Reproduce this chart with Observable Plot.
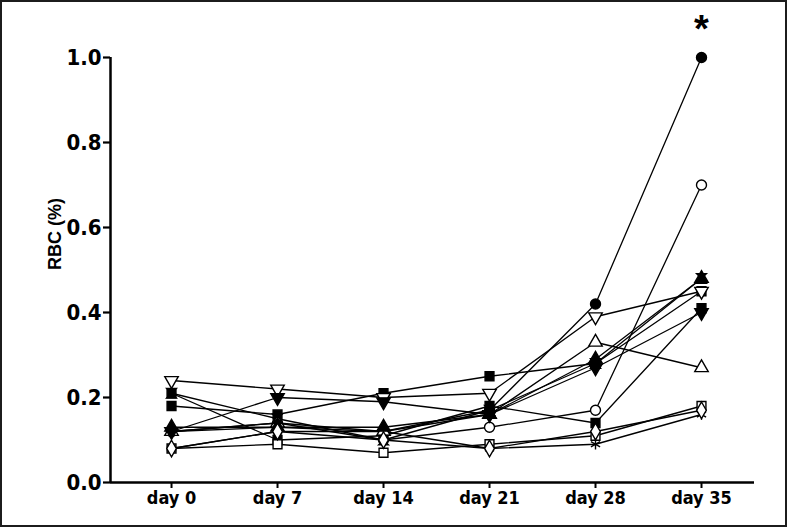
<!DOCTYPE html>
<html>
<head>
<meta charset="utf-8">
<script src="https://cdn.jsdelivr.net/npm/d3@7"></script>
<script src="https://cdn.jsdelivr.net/npm/@observablehq/plot@0.6"></script>
<style>
  html, body { margin: 0; padding: 0; background: #fff; }
  #wrap { position: relative; width: 787px; height: 527px; }
  #border { position: absolute; left: 0; top: 0; width: 787px; height: 527px; box-sizing: border-box; border: 2px solid #1c1c1c; pointer-events: none; }
</style>
</head>
<body>
<div id="wrap"><div id="chart"></div><div id="border"></div></div>
<script>
// ---- data ----
const days = [0, 7, 14, 21, 28, 35];
const dayLabels = ["day 0", "day 7", "day 14", "day 21", "day 28", "day 35"];
const yTicks = [0, 0.2, 0.4, 0.6, 0.8, 1.0];

const filledCircle   = [0.12, 0.13, 0.12, 0.17, 0.42, 1.00];
const openCircle     = [0.12, 0.14, 0.10, 0.13, 0.17, 0.70];
const filledSquareA  = [0.18, 0.16, 0.21, 0.25, 0.28, 0.45];
const filledSquareB  = [0.21, 0.10, 0.11, 0.18, 0.14, 0.41];
const openSquare     = [0.08, 0.09, 0.07, 0.09, 0.11, 0.18];
const starSeries     = [0.08, 0.12, 0.12, 0.08, 0.09, 0.16];
const openTriUp      = [0.12, 0.14, 0.12, 0.16, 0.33, 0.27];
const filledTriUp    = [0.13, 0.13, 0.13, 0.16, 0.29, 0.48];
const openTriDown    = [0.24, 0.22, 0.20, 0.21, 0.39, 0.45];
const filledTriDown  = [0.12, 0.20, 0.19, 0.16, 0.27, 0.40];
const hourglass      = [0.21, 0.15, 0.10, 0.17, 0.28, 0.48];
const openDiamond    = [0.08, 0.12, 0.10, 0.08, 0.12, 0.17];

const starLabel = "*";
const starValue = 1.085;

// ---- custom symbols ----
const triDown = {
  draw(ctx, size) {
    const y = -Math.sqrt(size / (Math.sqrt(3) * 3));
    ctx.moveTo(0, -y * 2);
    ctx.lineTo(-Math.sqrt(3) * y, y);
    ctx.lineTo(Math.sqrt(3) * y, y);
    ctx.closePath();
  }
};
const hourglassSym = {
  draw(ctx, size) {
    const h = Math.sqrt(size) * 0.55;
    ctx.moveTo(-h, -h); ctx.lineTo(h, -h); ctx.lineTo(0, 0); ctx.closePath();
    ctx.moveTo(-h, h); ctx.lineTo(h, h); ctx.lineTo(0, 0); ctx.closePath();
  }
};

const seriesDefs = [
  {name: "filledCircle",  values: filledCircle,  symbol: "circle",   filled: true},
  {name: "openCircle",    values: openCircle,    symbol: "circle",   filled: false},
  {name: "filledSquareA", values: filledSquareA, symbol: "square",   filled: true},
  {name: "filledSquareB", values: filledSquareB, symbol: "square",   filled: true},
  {name: "openSquare",    values: openSquare,    symbol: "square",   filled: false},
  {name: "star",          values: starSeries,    symbol: "asterisk", filled: false},
  {name: "openTriUp",     values: openTriUp,     symbol: "triangle", filled: false},
  {name: "filledTriUp",   values: filledTriUp,   symbol: "triangle", filled: true},
  {name: "openTriDown",   values: openTriDown,   symbol: triDown,    filled: false},
  {name: "filledTriDown", values: filledTriDown, symbol: triDown,    filled: true},
  {name: "hourglass",     values: hourglass,     symbol: hourglassSym, filled: true},
  {name: "openDiamond",   values: openDiamond,   symbol: "diamond",  filled: false}
];

const rows = seriesDefs.flatMap(s => s.values.map((v, i) => ({series: s.name, day: days[i], value: v})));

const narrow = "'Liberation Sans Narrow', 'Arial Narrow', 'DejaVu Sans Condensed', sans-serif";

const dotMarks = seriesDefs.map(s => Plot.dot(rows.filter(r => r.series === s.name), {
  x: "day", y: "value",
  symbol: s.symbol,
  r: 5,
  fill: s.symbol === "asterisk" ? "none" : (s.filled ? "black" : "white"),
  stroke: "black",
  strokeWidth: 1.4
}));

const chart = Plot.plot({
  width: 787,
  height: 527,
  marginLeft: 110,
  marginRight: 33,
  marginTop: 57,
  marginBottom: 45,
  style: {fontFamily: narrow, background: "transparent", overflow: "visible"},
  x: {type: "linear", domain: [-4.03, 38.5]},
  y: {domain: [0, 1]},
  marks: [
    Plot.axisX({ticks: days, tickFormat: (d) => dayLabels[days.indexOf(d)], tickSize: 6, tickPadding: 3,
      fontSize: 18, fontWeight: "bold", strokeWidth: 2, label: null, fill: "black", stroke: "black"}),
    Plot.axisY({ticks: yTicks, tickFormat: d3.format(".1f"), tickSize: 7, tickPadding: 2,
      fontSize: 22, fontWeight: "bold", strokeWidth: 2.2, label: null, fill: "black", stroke: "black"}),
    Plot.ruleX([-4.03], {y1: 0, y2: 1, stroke: "black", strokeWidth: 2.5}),
    Plot.ruleY([0], {stroke: "black", strokeWidth: 2.5}),
    Plot.text(["RBC (%)"], {frameAnchor: "left", rotate: -90, dx: -55, fontSize: 18, fontWeight: "bold",
      fontFamily: "'Liberation Sans', Arial, sans-serif", fill: "black"}),
    Plot.line(rows, {x: "day", y: "value", z: "series", stroke: "black", strokeWidth: 1.3}),
    ...dotMarks,
    Plot.text([starLabel], {x: () => days[5], y: () => starValue, fontSize: 38, fontWeight: "bold",
      fontFamily: "'Liberation Sans', Arial, sans-serif", fill: "black", dy: 8, clip: false})
  ]
});
document.getElementById("chart").appendChild(chart);
</script>
</body>
</html>
